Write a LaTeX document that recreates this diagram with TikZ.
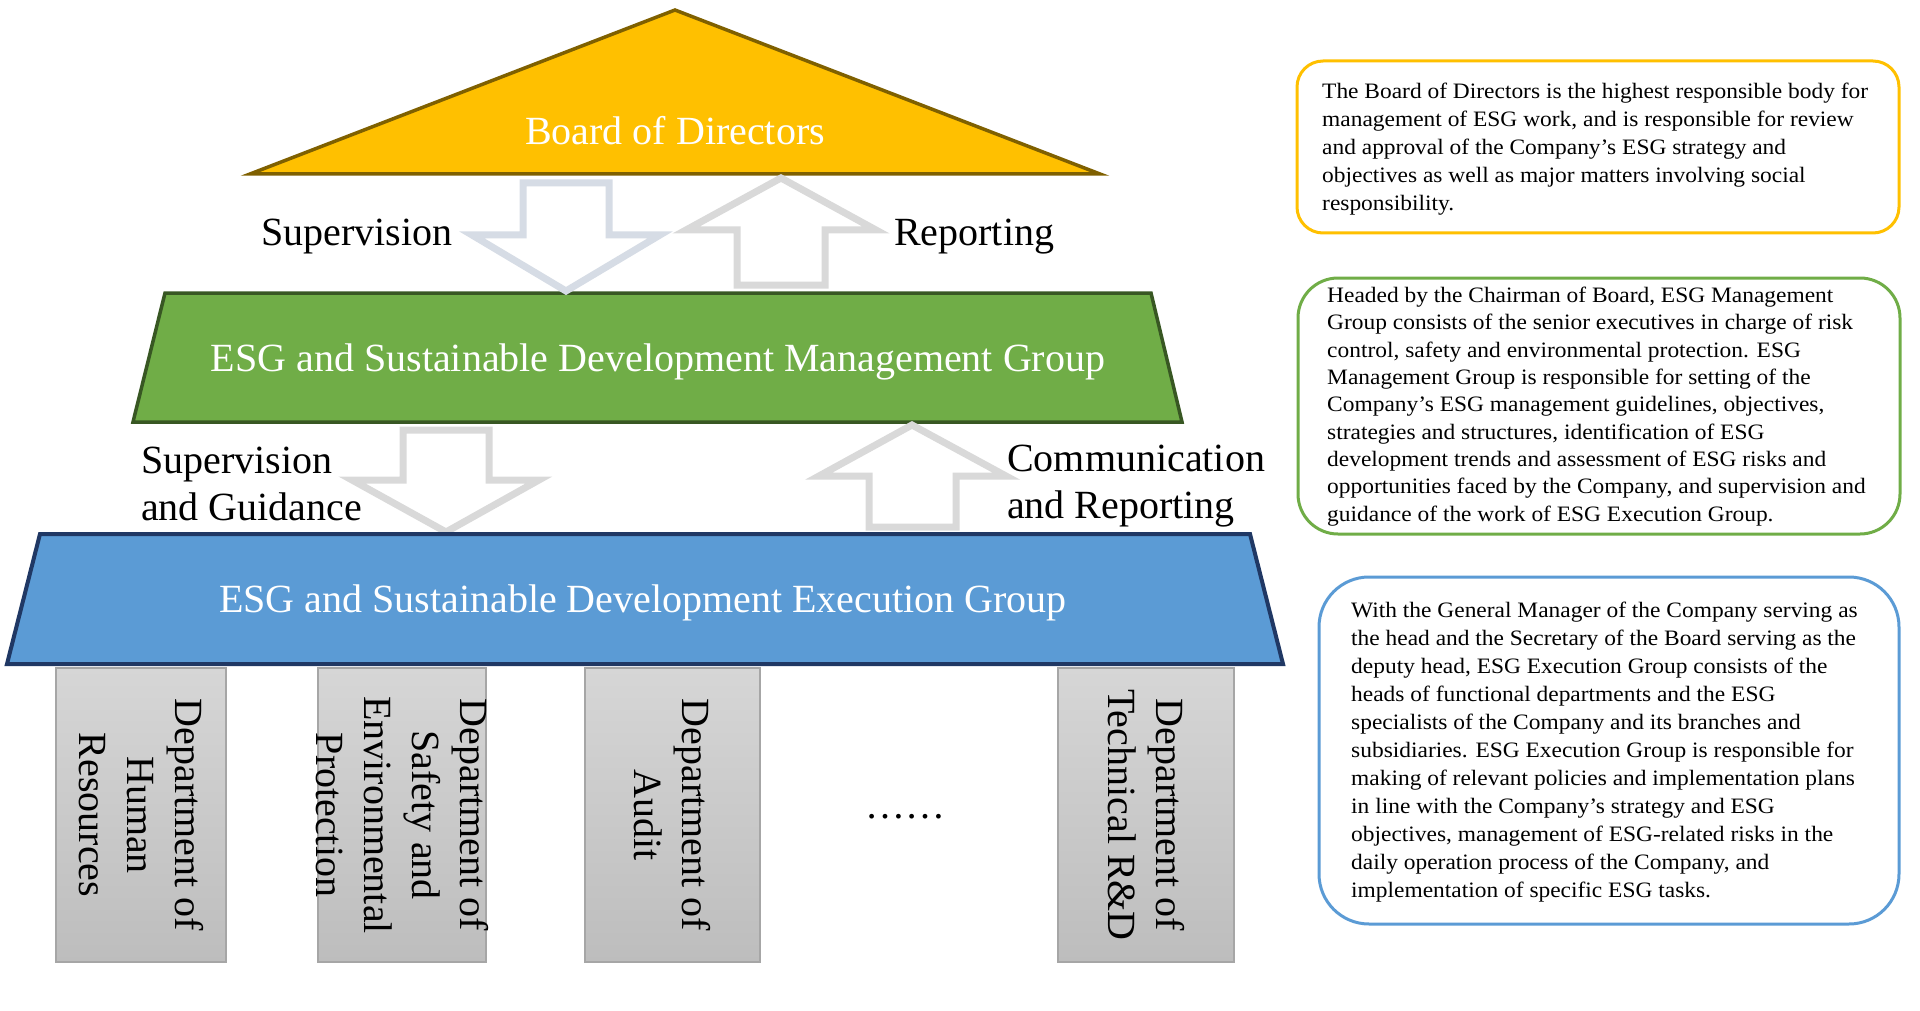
\documentclass[tikz,border=0pt]{standalone}
\usepackage{fontspec}
\setmainfont{Liberation Serif}
\newfontfamily\notefont[FakeStretch=1.065]{Liberation Serif}
\definecolor{boardfill}{HTML}{FFC000}
\definecolor{boardline}{HTML}{7F6000}
\definecolor{mgmtfill}{HTML}{70AD47}
\definecolor{mgmtline}{HTML}{385723}
\definecolor{execfill}{HTML}{5B9BD5}
\definecolor{execline}{HTML}{203864}
\definecolor{arrowblue}{HTML}{D6DCE5}
\definecolor{arrowgray}{HTML}{D9D9D9}
\definecolor{depttop}{HTML}{D6D6D6}
\definecolor{deptbot}{HTML}{BDBDBD}
\definecolor{deptline}{HTML}{A6A6A6}
\tikzset{
  tierlabel/.style={text=white, inner sep=0pt, font=\fontsize{40}{48}\selectfont},
  flowlabel/.style={text=black, inner sep=0pt, align=left, font=\fontsize{40}{47}\selectfont},
  blockarrow/.style={draw=#1, fill=white, line width=7pt, line join=miter},
  deptbox/.style={draw=deptline, line width=1.5pt, top color=depttop, bottom color=deptbot},
  depttext/.style={rotate=-90, align=center, inner sep=0pt, font=\fontsize{40}{48}\selectfont},
  notebox/.style={draw=#1, line width=3pt, fill=white},
  notetext/.style={anchor=north west, align=left, inner sep=0pt, font=\notefont\fontsize{22}{28}\selectfont}
}
\begin{document}
\begin{tikzpicture}[x=1pt,y=-1pt]
\useasboundingbox (0,0) rectangle (1920,1011);
% tiers
\draw[fill=boardfill, draw=boardline, line width=3.5pt, line join=miter] (250,174) -- (675,10) -- (1100,174) -- cycle;
\node[tierlabel, anchor=base] (board) at (675,145) {Board of Directors};
\draw[fill=mgmtfill, draw=mgmtline, line width=3.5pt] (165,293) -- (1151,293) -- (1182,422) -- (133,422) -- cycle;
\node[tierlabel, anchor=base] (mgmt) at (658,371) {ESG and Sustainable Development Management Group};
% arrows between board and management
\draw[blockarrow=arrowblue] (523,183) -- (609,183) -- (609,235) -- (660,235) -- (566,291) -- (472,235) -- (523,235) -- cycle;
\draw[blockarrow=arrowgray] (737,285) -- (825,285) -- (825,230) -- (876,230) -- (781,178) -- (686,230) -- (737,230) -- cycle;
\node[flowlabel, anchor=base west] (sup) at (261,246) {Supervision};
\node[flowlabel, anchor=base west] (rep) at (894,246) {Reporting};
% arrows between management and execution
\draw[blockarrow=arrowgray] (403,430) -- (489,430) -- (489,480) -- (539,480) -- (446,532) -- (352,480) -- (403,480) -- cycle;
\draw[blockarrow=arrowgray] (869,527) -- (956,527) -- (956,476) -- (1006,476) -- (912,425) -- (819,476) -- (869,476) -- cycle;
\node[flowlabel, anchor=base west] (supg) at (141,520) {Supervision\\and Guidance};
\node[flowlabel, anchor=base west] (comm) at (1007,518) {Communication\\and Reporting};
% execution
\draw[fill=execfill, draw=execline, line width=4pt] (40,534) -- (1250,534) -- (1283,664) -- (7,664) -- cycle;
\node[tierlabel, anchor=base] (exec) at (643,612) {ESG and Sustainable Development Execution Group};
% departments
\draw[deptbox] (56,668) rectangle (226,962);
\node[depttext] (hr) at (141,815) {Department of\\Human\\Resources};
\draw[deptbox] (318,668) rectangle (486,962);
\node[depttext] (sep) at (402,815) {Department of\\Safety and\\Environmental\\Protection};
\draw[deptbox] (585,668) rectangle (760,962);
\node[depttext] (audit) at (672,815) {Department of\\Audit};
\node[inner sep=0pt, anchor=base, font=\fontsize{40}{48}\selectfont] (dots) at (905,818) {……};
\draw[deptbox] (1058,668) rectangle (1234,962);
\node[depttext] (rd) at (1146,815) {Department of\\Technical R\&D};
% notes
\draw[notebox=boardfill, rounded corners=26pt] (1297,61) rectangle (1899,233);
\node[notetext] (note1) at (1322,83) {The Board of Directors is the highest responsible body for\\management of ESG work, and is responsible for review\\and approval of the Company’s ESG strategy and\\objectives as well as major matters involving social\\responsibility.};
\draw[notebox=mgmtfill, rounded corners=40pt] (1298,278) rectangle (1900,534);
\node[notetext, font=\notefont\fontsize{22}{27.3}\selectfont] (note2) at (1327,287) {Headed by the Chairman of Board, ESG Management\\Group consists of the senior executives in charge of risk\\control, safety and environmental protection. ESG\\Management Group is responsible for setting of the\\Company’s ESG management guidelines, objectives,\\strategies and structures, identification of ESG\\development trends and assessment of ESG risks and\\opportunities faced by the Company, and supervision and\\guidance of the work of ESG Execution Group.};
\draw[notebox=execfill, rounded corners=50pt] (1319,577) rectangle (1899,924);
\node[notetext] (note3) at (1351,602) {With the General Manager of the Company serving as\\the head and the Secretary of the Board serving as the\\deputy head, ESG Execution Group consists of the\\heads of functional departments and the ESG\\specialists of the Company and its branches and\\subsidiaries. ESG Execution Group is responsible for\\making of relevant policies and implementation plans\\in line with the Company’s strategy and ESG\\objectives, management of ESG-related risks in the\\daily operation process of the Company, and\\implementation of specific ESG tasks.};
\end{tikzpicture}
\end{document}
